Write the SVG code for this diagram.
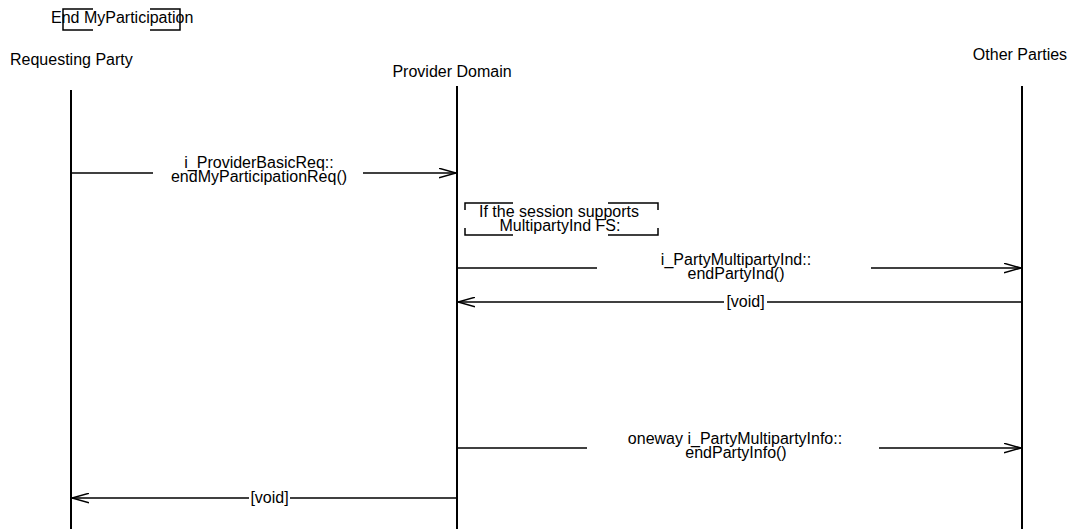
<svg xmlns="http://www.w3.org/2000/svg" width="1071" height="529" viewBox="0 0 1071 529">
  <style>
    text { font-family: "Liberation Sans", Arial, sans-serif; font-size: 16px; fill: #000; }
    .mid { text-anchor: middle; }
    .lifeline { stroke: #000; stroke-width: 2; fill: none; }
    .msg { stroke: #000; stroke-width: 1.5; fill: none; }
    .bracket { stroke: #000; stroke-width: 1.5; fill: none; }
  </style>
  <defs>
    <marker id="open" viewBox="0 0 17 11" refX="17" refY="5.5" markerWidth="17" markerHeight="11" markerUnits="userSpaceOnUse" orient="auto">
      <path d="M0,0.75 L17,5.5 L0,10.25" fill="none" stroke="#000" stroke-width="1.5"/>
    </marker>
  </defs>
  <rect width="1071" height="529" fill="#fff"/>

  <!-- title with bracket marks -->
  <g id="title">
    <text x="51" y="23">End MyParticipation</text>
    <path class="bracket" d="M93,9 H63 V30 H93 M150,9 H180 V30 H150"/>
  </g>

  <!-- participants -->
  <g id="requesting-party">
    <text x="10" y="65">Requesting Party</text>
    <line class="lifeline" x1="71" y1="90" x2="71" y2="529"/>
  </g>
  <g id="provider-domain">
    <text class="mid" x="452" y="77">Provider Domain</text>
    <line class="lifeline" x1="457" y1="86" x2="457" y2="529"/>
  </g>
  <g id="other-parties">
    <text class="mid" x="1020" y="60">Other Parties</text>
    <line class="lifeline" x1="1022" y1="86" x2="1022" y2="529"/>
  </g>

  <!-- condition note -->
  <g id="condition">
    <path class="bracket" d="M513,203 H465 V210 M465,228 V235 H513 M608,203 H658 V210 M658,228 V235 H608"/>
    <text class="mid" x="559" y="216.5">If the session supports</text>
    <text class="mid" x="560" y="231">MultipartyInd FS:</text>
  </g>

  <!-- messages -->
  <g id="connectors">
    <line class="msg" x1="71" y1="173" x2="153" y2="173"/>
    <line class="msg" x1="363" y1="173" x2="456" y2="173" marker-end="url(#open)"/>

    <line class="msg" x1="457" y1="268" x2="597" y2="268"/>
    <line class="msg" x1="871" y1="268" x2="1021" y2="268" marker-end="url(#open)"/>

    <line class="msg" x1="1022" y1="302" x2="767" y2="302"/>
    <line class="msg" x1="724" y1="302" x2="458" y2="302" marker-end="url(#open)"/>

    <line class="msg" x1="457" y1="448" x2="587" y2="448"/>
    <line class="msg" x1="879" y1="448" x2="1021" y2="448" marker-end="url(#open)"/>

    <line class="msg" x1="457" y1="498" x2="290" y2="498"/>
    <line class="msg" x1="249" y1="498" x2="72" y2="498" marker-end="url(#open)"/>
  </g>

  <!-- message labels -->
  <g id="labels">
    <text class="mid" x="259" y="167.5">i_ProviderBasicReq::</text>
    <text class="mid" x="259" y="182">endMyParticipationReq()</text>

    <text class="mid" x="736" y="264.5">i_PartyMultipartyInd::</text>
    <text class="mid" x="736" y="279">endPartyInd()</text>

    <text class="mid" x="745.5" y="307">[void]</text>

    <text class="mid" x="735" y="443.5">oneway i_PartyMultipartyInfo::</text>
    <text class="mid" x="736" y="458">endPartyInfo()</text>

    <text class="mid" x="269.5" y="503">[void]</text>
  </g>
</svg>
